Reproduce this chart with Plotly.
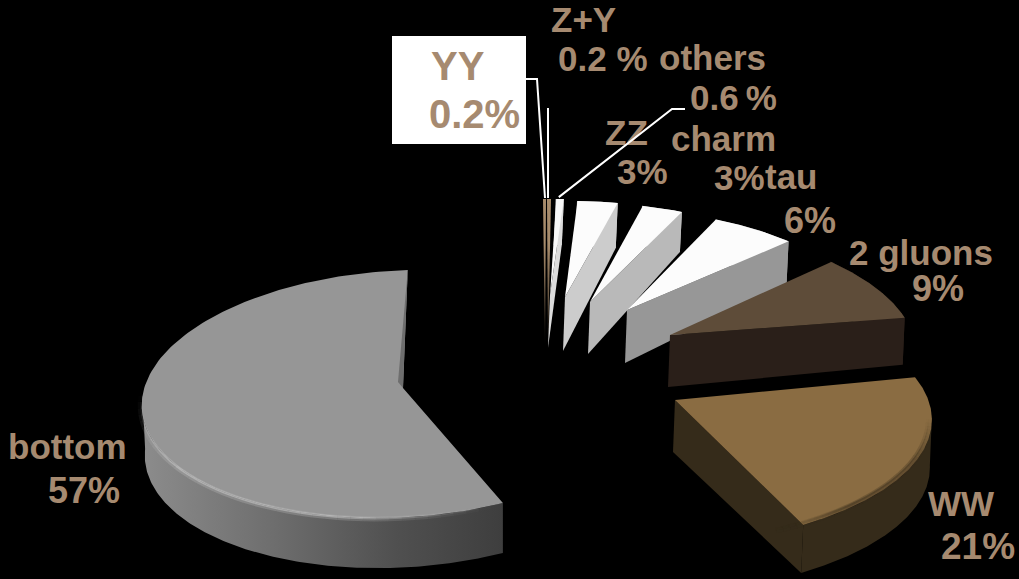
import numpy as np
import plotly.graph_objects as go

# Decay shares, clockwise from twelve o'clock
names = ["Z+Y", "others", "ZZ", "charm", "tau", "2 gluons", "WW", "bottom", "YY"]
shares = [0.2, 0.6, 3, 3, 6, 9, 21, 57, 0.2]

top_colors = ["#a88c6c", "#f8f8f8", "#fcfcfc", "#fcfcfc", "#fcfcfc", "#5e4c39", "#8a6c42", "#969696", "#a88c6c"]
wall_colors = ["#a88c6c", "#dcdcdc", "#cccccc", "#b9b9b9", "#979797", "#2a1f19", "#352b1a", "#666666", "#a88c6c"]

# Exploded placement and tilted-disc projection of each wedge
wedge_view = {
    "Z+Y":      dict(apex=(548, 347), off=(0, 0), rx=318, ux=-1, ry=148, uy=0, d0=0, d1=0),
    "others":   dict(apex=(550, 295), off=(0, 0), rx=215, ux=3, ry=96, uy=0, d0=53, d1=46),
    "ZZ":       dict(apex=(565, 297), off=(0, 0), rx=219, ux=1, ry=96, uy=-3, d0=54, d1=45),
    "charm":    dict(apex=(590, 302), off=(0, 0), rx=224, ux=-1, ry=99, uy=0, d0=52, d1=40),
    "tau":      dict(apex=(627, 310), off=(0, 0), rx=233, ux=-9, ry=100, uy=1, d0=53, d1=42),
    "2 gluons": dict(apex=(670, 335), off=(0, 0), rx=244, ux=-22, ry=111, uy=5, d0=52, d1=47),
    "WW":       dict(apex=(675, 400), off=(-35, 19), rx=289, ux=-41, ry=126, uy=-17, d0=52, d1=48),
    "bottom":   dict(apex=(403, 388), off=(-3, 6), rx=258, ux=11, ry=124, uy=-6, d0=52, d1=50),
    "YY":       dict(apex=(545, 347), off=(0, 0), rx=238, ux=1, ry=148, uy=0, d0=0, d1=0),
}

# Part of the arc whose outer wall faces the viewer
front_arc = {"WW": (97, None), "bottom": (None, 272)}

# Label lines: text, left edge, vertical centre, font size
label_text = ["Z+Y", "0.2 %", "others", "0.6\u2009%", "ZZ", "3%", "charm", "3%", "tau", "6%",
              "2 gluons", "9%", "WW", "21%", "bottom", "57%", "YY", "0.2%"]
label_x = [551, 558, 659, 690, 605, 617, 671, 714, 765, 784, 849, 912, 928, 941, 8, 48, 431, 429]
label_y = [23, 62, 61, 101, 136, 175, 142, 181, 180, 224, 256, 292, 507, 550, 450, 494, 70, 118]
label_size = [35, 35, 35, 35, 35, 35, 35, 35, 35, 36, 35, 36, 35, 37, 35, 36, 40, 40]
LABEL_COLOR = "#a68a70"


def rim_point(view, theta):
    s, c = np.sin(theta), np.cos(theta)
    ax, ay = view["apex"]
    ox, oy = view["off"]
    return (ax + ox + view["rx"] * s + view["ux"] * c,
            ay + oy - view["ry"] * c + view["uy"] * s)


def polygon(xs, ys, color=None, gradient=None):
    trace = go.Scatter(x=list(xs), y=list(ys), mode="lines", fill="toself",
                       line=dict(width=0), hoverinfo="skip", showlegend=False)
    if gradient is not None:
        trace.fillgradient = gradient
    else:
        trace.fillcolor = color
    return trace


def bevel(fig, view, a, b, rgb, alpha, width, inset=0.0, fade=20.0, pieces=40):
    """Rim highlight that fades out towards both ends of the arc."""
    ax, ay = view["apex"]
    cuts = np.linspace(a, b, pieces + 1)
    for lo, hi in zip(cuts[:-1], cuts[1:]):
        mid = (lo + hi) / 2
        weight = min(1.0, (mid - a) / fade, (b - mid) / fade)
        t = np.radians(np.linspace(lo, hi, 6))
        x, y = rim_point(view, t)
        x = ax + (x - ax) * (1 - inset)
        y = ay + (y - ay) * (1 - inset)
        fig.add_trace(go.Scatter(x=x, y=y, mode="lines",
                                 line=dict(color=f"rgba({rgb},{alpha * weight:.3f})", width=width),
                                 hoverinfo="skip", showlegend=False))


fig = go.Figure()

# Category labels sit below the leader lines
fig.add_trace(go.Scatter(x=label_x, y=label_y, mode="text", text=label_text,
                         textposition="middle right",
                         textfont=dict(family="Liberation Sans", size=label_size,
                                       color=LABEL_COLOR, weight="bold"),
                         hoverinfo="skip", showlegend=False))

# Angular extents derived from the shares
edges = np.concatenate([[0], np.cumsum(shares)]) / sum(shares) * 360
extent = {n: (edges[i], edges[i + 1]) for i, n in enumerate(names)}
extent["YY"] = (edges[-2] - 360, edges[-1] - 360)

# Back-to-front painting order
order = ["YY", "Z+Y", "others", "ZZ", "charm", "tau", "2 gluons", "WW", "bottom"]
for name in order:
    i = names.index(name)
    v = wedge_view[name]
    a, b = extent[name]
    t = np.radians(np.linspace(a, b, 160))
    rx_pts, ry_pts = rim_point(v, t)
    ax, ay = v["apex"]
    lo, hi = front_arc.get(name, (None, None))
    tw = np.radians(np.linspace(lo if lo is not None else a, hi if hi is not None else b, 160))
    wx, wy = rim_point(v, tw)
    if v["d1"] > 0:
        # outer rim wall
        if name == "bottom":
            grad = dict(type="horizontal",
                        colorscale=[[0, "#8c8c8c"], [0.35, "#6f6f6f"], [0.7, "#505050"], [1, "#3e3e3e"]])
            shift = 3 * (wx.max() - wx) / (wx.max() - wx.min())
            fig.add_trace(polygon(np.r_[wx, (wx + shift)[::-1]],
                                  np.r_[wy, wy[::-1] + v["d1"]], gradient=grad))
        else:
            fig.add_trace(polygon(np.r_[wx, wx[::-1] - 2],
                                  np.r_[wy, wy[::-1] + v["d1"]], color=wall_colors[i]))
            # radial face at the clockwise end
            ex, ey = rx_pts[-1], ry_pts[-1]
            fig.add_trace(polygon([ax, ex, ex - 2, ax - 2],
                                  [ay, ey, ey + v["d1"], ay + v["d0"]], color=wall_colors[i]))
    # top face
    if v["d1"] == 0:
        grad = dict(type="vertical",
                    colorscale=[[0, "#000000"], [0.25, "#5a4a38"], [0.7, top_colors[i]], [1, top_colors[i]]])
        fig.add_trace(polygon(np.r_[ax, rx_pts], np.r_[ay, ry_pts], gradient=grad))
    else:
        fig.add_trace(polygon(np.r_[ax, rx_pts], np.r_[ay, ry_pts], color=top_colors[i]))

    # soft bevel along the front of the rim
    if name == "bottom":
        bevel(fig, v, 157, 272, "205,205,205", 0.25, 5, inset=-0.006, fade=35)
        bevel(fig, v, 157, 272, "215,215,215", 0.45, 2, inset=-0.002, fade=35)
        # sliver of the inner face near the far edge
        px, py = rim_point(v, np.radians(b))
        fig.add_trace(polygon([px, ax, ax - 5], [py, ay, ay - 6], color="#6e6e6e"))
    if name == "WW":
        bevel(fig, v, 98, b + 6, "53,43,26", 0.45, 5, inset=0.006, fade=18)
        bevel(fig, v, 98, b + 6, "53,43,26", 0.3, 3, inset=0.018, fade=18)

# Leader lines run from label to rim
yy_x, yy_y = rim_point(wedge_view["YY"], np.radians(extent["YY"][0]))
zy_x, zy_y = rim_point(wedge_view["Z+Y"], np.radians(np.mean(extent["Z+Y"])))
ot_x, ot_y = rim_point(wedge_view["others"], np.radians(extent["others"][1]))
leader = dict(color="#ffffff", width=2)
for xs, ys in [([526, 537, yy_x + 2], [79, 79, yy_y - 1]),
               ([zy_x - 1, zy_x - 1], [108, zy_y - 1]),
               ([685, 672, ot_x - 5], [109, 109, ot_y - 2])]:
    fig.add_trace(go.Scatter(x=xs, y=ys, mode="lines", line=leader,
                             hoverinfo="skip", showlegend=False))

fig.update_layout(
    width=1019, height=579, margin=dict(l=0, r=0, t=0, b=0),
    paper_bgcolor="#000000", plot_bgcolor="#000000",
    xaxis=dict(range=[0, 1019], visible=False, fixedrange=True),
    yaxis=dict(range=[579, 0], visible=False, fixedrange=True),
    shapes=[dict(type="rect", xref="x", yref="y", x0=392, x1=526, y0=36, y1=144,
                 fillcolor="#ffffff", line=dict(width=0), layer="below")],
)

fig.write_html("out.html")
